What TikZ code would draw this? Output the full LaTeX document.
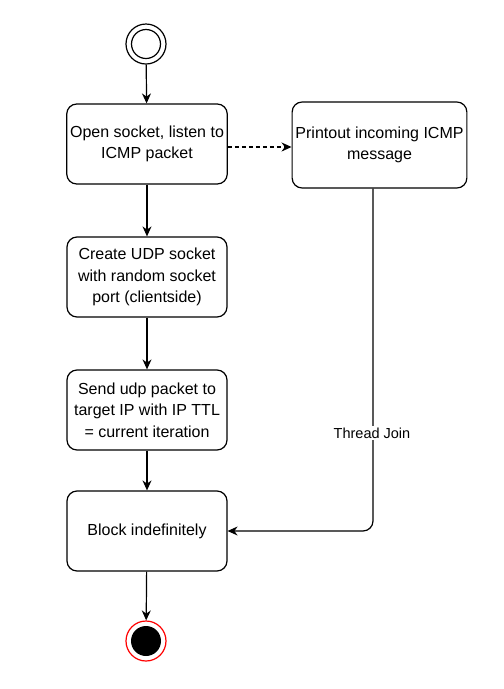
\documentclass[tikz,border=0pt]{standalone}
\usepackage{fontspec}
\setmainfont{Liberation Sans}
\usetikzlibrary{arrows.meta,positioning}
\tikzset{
	actbox/.style={draw, line width=1.2pt, rounded corners=10pt, minimum width=160pt, minimum height=80pt, align=center, font=\fontsize{16}{21.5}\selectfont},
	flow/.style={line width=1.2pt, -{Stealth[length=10pt,width=9pt]}}
}

\begin{document}
\begin{tikzpicture}[x=1pt, y=-1pt]
			%%%%% START %%%%%
			\useasboundingbox (0, 0) rectangle (504, 689);
			
			\node[draw, line width=1.2pt, circle, minimum size=40pt, inner sep=0pt] (start) at (146, 44) {};
			\draw[line width=1.2pt] (146, 44) circle (14.5);
			
			\node[actbox] (listen) at (147, 144) {Open socket, listen to\\ICMP packet};
			\node[actbox, minimum width=174pt, minimum height=86pt] (print) at (379.5, 145) {Printout incoming ICMP\\message};
			\node[actbox] (create) at (147, 277) {Create UDP socket\\with random socket\\port (clientside)};
			\node[actbox] (send) at (147, 410) {Send udp packet to\\target IP with IP TTL\\= current iteration};
			\node[actbox] (block) at (147, 531) {Block indefinitely};
			
			\node[draw=red, line width=1.2pt, circle, minimum size=40pt, inner sep=0pt] (stop) at (146, 641) {};
			\fill[black] (stop.center) circle (15);
			
			\coordinate (join) at (373, 0);
			
			\draw[flow] (start) -- (listen);
			\draw[flow] (listen) -- (create);
			\draw[flow] (create) -- (send);
			\draw[flow] (send) -- (block);
			\draw[flow] (block) -- (stop);
			\draw[flow, dash pattern=on 4pt off 3pt] (listen.east |- 0, 147) -- (print.west |- 0, 147);
			\draw[flow, rounded corners=10pt] (join |- print.south) -- (join |- block.east) -- (block.east);
			\node[fill=white, inner sep=1.5pt, font=\fontsize{14.5}{16}\selectfont] (joinlabel) at (372, 433) {Thread Join};
			
			%%%%% END %%%%%
		\end{tikzpicture}
\end{document}
